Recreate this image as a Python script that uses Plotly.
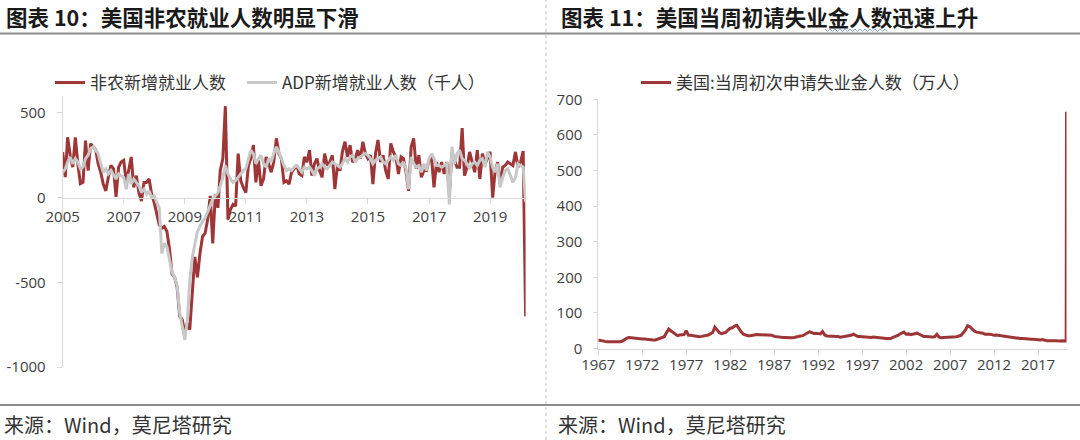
import pandas as pd
import plotly.graph_objects as go

W, H = 1080, 440

# ---------------- Data: left chart (monthly, thousands) ----------------
nfp = [
    268, 121, 356, 250, 180, 356, 200, 82, 90, 337, 160, 318,      # 2005
    300, 280, 200, 150, 80, 40, 120, 190, 170, 5, 180, 210,        # 2006
    220, 90, 160, 240, 60, 130, 30, -20, 90, 90, 110, 20,          # 2007
    -30, -90, -160, -180, -170, -200, -300, -450, -470, -530, -700, -720,  # 2008
    -800, -740, -780, -560, -350, -470, -330, -230, -210, -130, 10, -270,  # 2009
    20, -60, 160, 230, 540, -130, -70, -40, -50, 260, 100, 60,     # 2010
    30, 190, 230, 310, 90, 220, 70, 110, 240, 200, 150, 210,       # 2011
    350, 260, 230, 90, 100, 80, 150, 170, 190, 140, 130, 240,      # 2012
    210, 280, 130, 200, 230, 160, 120, 260, 190, 210, 250, 50,     # 2013
    190, 160, 270, 330, 240, 310, 210, 230, 280, 230, 330, 260,    # 2014
    230, 250, 80, 260, 340, 210, 250, 160, 110, 320, 270, 240,     # 2015
    140, 240, 230, 150, 40, 300, 350, 170, 250, 120, 160, 160,     # 2016
    220, 230, 60, 210, 150, 210, 140, 210, 20, 270, 220, 180,      # 2017
    180, 410, 130, 180, 270, 210, 150, 280, 110, 260, 200, 230,    # 2018
    270, 0, 150, 210, 80, 180, 190, 210, 200, 190, 270, 180,       # 2019
    210, 275, -701,                                                # 2020
]
adp = [
    150, 170, 210, 240, 200, 230, 210, 170, 180, 230, 250, 290,    # 2005
    300, 280, 260, 200, 150, 170, 140, 160, 130, 110, 140, 130,    # 2006
    120, 50, 140, 80, 110, 90, 70, 30, 50, 20, 40, 0,              # 2007
    10, -30, -60, -330, -270, -290, -370, -440, -470, -520, -680, -760,   # 2008
    -840, -720, -490, -350, -280, -200, -170, -140, -120, -80, -40, -10,  # 2009
    10, 30, 70, 120, 190, 140, 110, 90, 100, 120, 140, 160,        # 2010
    170, 220, 280, 260, 200, 230, 250, 200, 180, 230, 210, 260,    # 2011
    300, 270, 230, 190, 160, 170, 160, 180, 190, 170, 150, 180,    # 2012
    170, 180, 160, 130, 170, 180, 200, 180, 170, 190, 210, 200,    # 2013
    190, 180, 200, 230, 210, 240, 250, 210, 230, 240, 250, 260,    # 2014
    250, 230, 200, 220, 230, 240, 210, 200, 220, 240, 220, 250,    # 2015
    200, 190, 210, 170, 50, 240, 200, 180, 190, 150, 200, 160,     # 2016
    230, 260, 230, 190, 190, 180, 190, 200, -40, 300, 200, 260,    # 2017
    280, 230, 220, 200, 170, 200, 210, 190, 220, 230, 180, 270,    # 2018
    240, 180, 150, 200, 60, 120, 160, 170, 130, 90, 120, 200,      # 2019
    190, 180, -27,                                                 # 2020
]
months = pd.date_range("2005-01-01", periods=len(nfp), freq="MS")

left_yticks = [-1000, -500, 0, 500]
left_yticktext = ["-1000", "-500", "0", "500"]
left_xyears = [2005, 2007, 2009, 2011, 2013, 2015, 2017, 2019]

# ---------------- Data: right chart (initial claims, 10k persons) ----------------
claims_q = [
    24, 22, 21, 20,   19, 19, 18, 18,   18, 19, 19, 21,   26, 29, 31, 30,   # 1967-1970
    29, 29, 28, 27,   27, 27, 26, 25,   23, 24, 24, 26,   27, 29, 33, 44,   # 1971-1974
    55, 50, 45, 39,   36, 38, 39, 39,   50, 37, 37, 36,   34, 33, 33, 34,   # 1975-1978
    35, 36, 38, 41,   45, 60, 52, 45,   42, 43, 45, 52,   57, 58, 63, 65,   # 1979-1982
    55, 47, 40, 37,   36, 36, 38, 38,   39, 39, 39, 38,   37, 38, 38, 37,   # 1983-1986
    34, 33, 31, 30,   31, 31, 30, 30,   30, 31, 33, 35,   35, 36, 40, 45,   # 1987-1990
    47, 45, 42, 43,   43, 41, 48, 38,   35, 35, 33, 33,   33, 34, 32, 33,   # 1991-1994
    33, 36, 36, 37,   40, 36, 34, 34,   33, 32, 32, 31,   31, 32, 31, 30,   # 1995-1998
    30, 29, 29, 28,   28, 28, 31, 33,   36, 40, 42, 46,   40, 41, 39, 40,   # 1999-2002
    41, 43, 40, 36,   34, 34, 33, 34,   32, 33, 40, 32,   30, 31, 31, 32,   # 2003-2006
    32, 31, 31, 33,   35, 37, 44, 52,   64, 61, 55, 49,   46, 45, 46, 43,   # 2007-2010
    40, 41, 40, 39,   37, 38, 37, 36,   35, 34, 33, 33,   32, 30, 29, 29,   # 2011-2014
    28, 28, 27, 27,   27, 26, 26, 25,   24, 24, 25, 23,   22, 22, 21, 22,   # 2015-2018
    22, 21, 21, 22,                                                         # 2019
]
claims_q_dates = pd.date_range("1967-01-01", periods=len(claims_q), freq="QS")
claims_tail_dates = ["2020-01-15", "2020-02-15", "2020-03-14", "2020-03-21", "2020-03-28"]
claims_tail = [21.5, 21.3, 21.1, 328.3, 664.8]

right_yticks = [0, 100, 200, 300, 400, 500, 600, 700]
right_xyears = [1967, 1972, 1977, 1982, 1987, 1992, 1997, 2002, 2007, 2012, 2017]

# ---------------- Styles ----------------
RED = "#9E3536"
GREY = "#C8C8C8"
AXIS = "#D9D9D9"
TICKFONT = dict(family="Open Sans, Noto Sans, sans-serif", size=15, color="#404040")
CJK = "Noto Sans CJK SC"


def px(x):
    return x / W


def py(y):
    return 1 - y / H


fig = go.Figure()

fig.add_trace(go.Scatter(
    x=months, y=nfp, mode="lines", name="非农新增就业人数",
    line=dict(color=RED, width=3), xaxis="x", yaxis="y", legend="legend",
))
fig.add_trace(go.Scatter(
    x=months, y=adp, mode="lines", name="ADP新增就业人数（千人）",
    line=dict(color=GREY, width=3), xaxis="x", yaxis="y", legend="legend3",
))
fig.add_trace(go.Scatter(
    x=list(claims_q_dates) + [pd.Timestamp(d) for d in claims_tail_dates],
    y=claims_q + claims_tail, mode="lines", name="美国:当周初次申请失业金人数（万人）",
    line=dict(color=RED, width=3), xaxis="x2", yaxis="y2", legend="legend2",
))

# Left plot geometry
lx0, lx1 = px(62.7), px(525.6)
ly0, ly1 = py(367), py(96)
lymin, lymax = -1000, 600
zero_pos = ly0 + (0 - lymin) / (lymax - lymin) * (ly1 - ly0)

# Right plot geometry
rx0, rx1 = px(598.3), px(1066.5)
ry0, ry1 = py(348.5), py(99.3)

common_axis = dict(showline=True, linecolor=AXIS, linewidth=1, ticks="outside",
                   tickcolor=AXIS, tickwidth=1, showgrid=False, zeroline=False,
                   tickfont=TICKFONT, fixedrange=True, automargin=False)

legend_common = dict(orientation="h", yanchor="middle", xanchor="left",
                     bgcolor="rgba(0,0,0,0)", borderwidth=0, itemwidth=30,
                     font=dict(family=CJK, size=17, color="#333333"))

fig.update_layout(
    width=W, height=H, margin=dict(l=0, r=0, t=0, b=0, autoexpand=False),
    paper_bgcolor="white", plot_bgcolor="white",
    showlegend=True,
    xaxis=dict(domain=[lx0, lx1], anchor="free", position=zero_pos, type="date",
               range=["2005-01-01", "2020-03-01"],
               tickvals=[f"{y}-01-01" for y in left_xyears],
               ticktext=[str(y) for y in left_xyears], ticklen=5, **common_axis),
    yaxis=dict(domain=[ly0, ly1], anchor="x", range=[lymin, lymax],
               tickvals=left_yticks, ticktext=left_yticktext, ticklen=5,
               ticklabelstandoff=8, **common_axis),
    xaxis2=dict(domain=[rx0, rx1], anchor="y2", type="date",
                range=["1967-01-01", "2020-03-28"],
                tickvals=[f"{y}-01-01" for y in right_xyears],
                ticktext=[str(y) for y in right_xyears], ticklen=5,
                ticklabelstandoff=-3, **common_axis),
    yaxis2=dict(domain=[ry0, ry1], anchor="x2", range=[0, 700],
                tickvals=right_yticks, ticktext=[str(v) for v in right_yticks],
                ticklen=4, ticklabelstandoff=8, **common_axis),
    legend=dict(x=px(50), y=py(83), **legend_common),
    legend3=dict(x=px(242), y=py(83), **legend_common),
    legend2=dict(x=px(636), y=py(83), **legend_common),
)

# Frame lines
shapes = [
    dict(type="line", xref="paper", yref="paper", x0=0, x1=1, y0=py(33.5), y1=py(33.5),
         line=dict(color="#8C8C8C", width=2)),
    dict(type="line", xref="paper", yref="paper", x0=0, x1=1, y0=py(405), y1=py(405),
         line=dict(color="#8C8C8C", width=2)),
    dict(type="line", xref="paper", yref="paper", x0=px(546), x1=px(546), y0=0, y1=1,
         line=dict(color="#BFBFBF", width=1, dash="dot")),
]
# spell-check squiggle under the right title
sq = []
xx = 825.0
up = True
while xx <= 888:
    sq.append((xx, 29.0 if up else 31.5))
    xx += 2.5
    up = not up
path = "M " + " L ".join(f"{px(a):.5f},{py(b):.5f}" for a, b in sq)
shapes.append(dict(type="path", xref="paper", yref="paper", path=path,
                   line=dict(color="#8FB0E6", width=1)))
fig.update_layout(shapes=shapes)

title_font = dict(family=CJK, size=21.5, color="#1A1A1A", weight="bold")
foot_font = dict(family=CJK, size=20, color="#333333")
fig.add_annotation(text="图表 10：美国非农就业人数明显下滑", x=px(4), y=py(16),
                   xref="paper", yref="paper", xanchor="left", yanchor="middle",
                   showarrow=False, font=title_font)
fig.add_annotation(text="图表 11：美国当周初请失业金人数迅速上升", x=px(559), y=py(16),
                   xref="paper", yref="paper", xanchor="left", yanchor="middle",
                   showarrow=False, font=title_font)
fig.add_annotation(text="来源：Wind，莫尼塔研究", x=px(2), y=py(424),
                   xref="paper", yref="paper", xanchor="left", yanchor="middle",
                   showarrow=False, font=foot_font)
fig.add_annotation(text="来源：Wind，莫尼塔研究", x=px(556), y=py(424),
                   xref="paper", yref="paper", xanchor="left", yanchor="middle",
                   showarrow=False, font=foot_font)

fig.write_html("out.html", config={"displayModeBar": False})
